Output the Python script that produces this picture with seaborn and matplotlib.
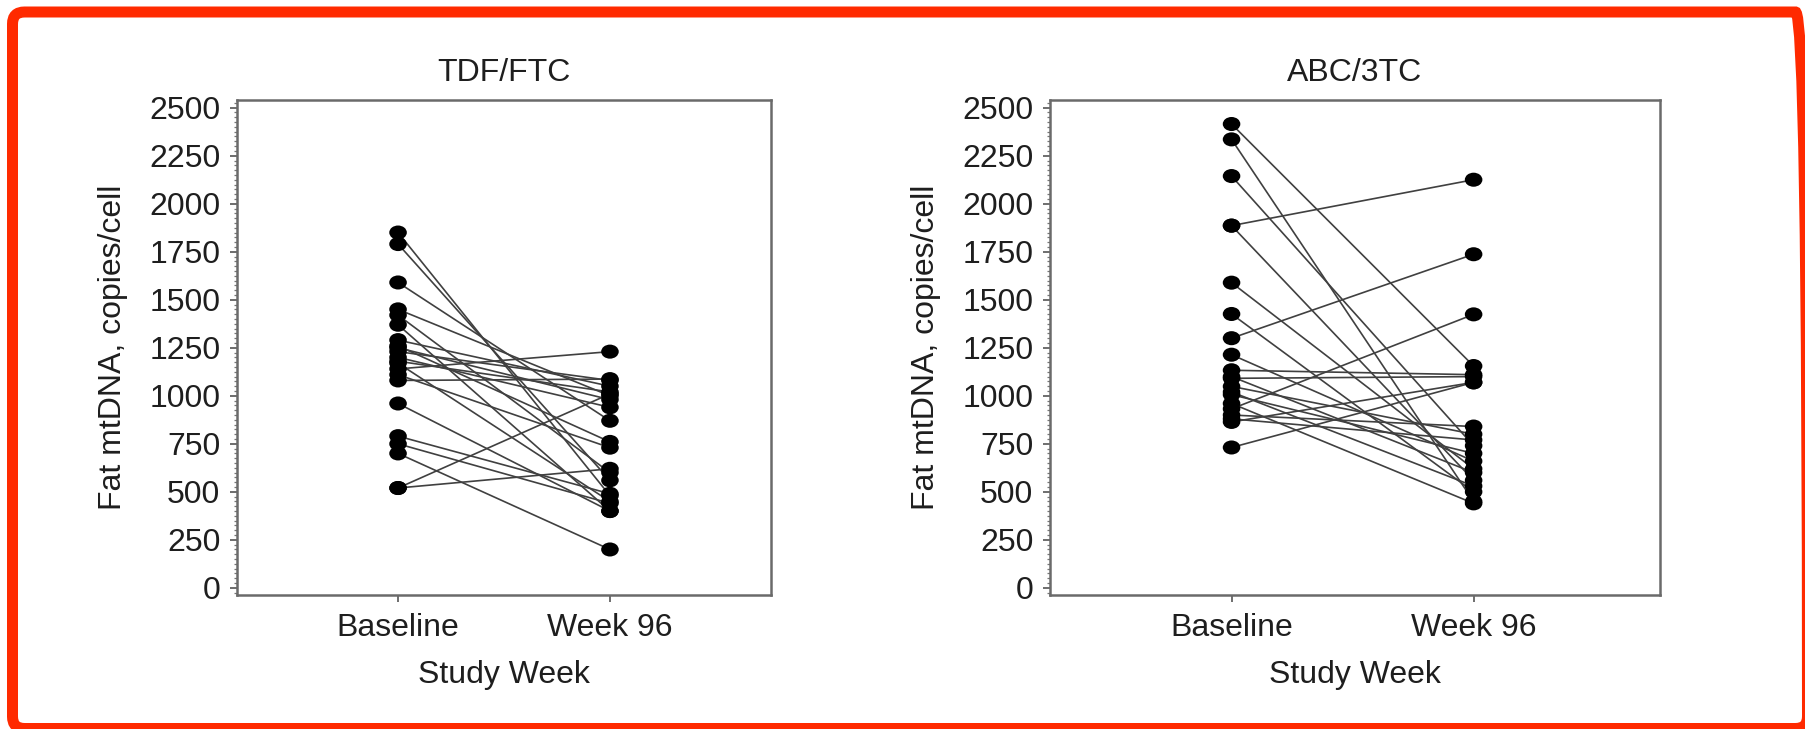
import numpy as np
import pandas as pd
import matplotlib
matplotlib.use("Agg")
import matplotlib.pyplot as plt
import seaborn as sns
from matplotlib.patches import FancyBboxPatch
from matplotlib.transforms import IdentityTransform, Affine2D
from matplotlib.ticker import MultipleLocator
from matplotlib.path import Path

# ---------------- data ----------------
groups = ["TDF/FTC", "ABC/3TC"]
timepoints = ["Baseline", "Week 96"]
y_ticks = [0, 250, 500, 750, 1000, 1250, 1500, 1750, 2000, 2250, 2500]

tdf_baseline = [1850, 1790, 1590, 1450, 1420, 1370, 1290, 1260, 1230, 1200, 1170,
                1140, 1110, 1080, 960, 790, 750, 700, 520, 520, 1250, 1180]
tdf_week96 = [480, 560, 870, 1000, 600, 400, 1050, 760, 1080, 940, 450,
              1230, 730, 1087, 400, 490, 440, 200, 1010, 620, 980, 1020]

abc_baseline = [2415, 2335, 2144, 1886, 1886, 1589, 1426, 1300, 1214, 1133, 1091,
                1100, 1049, 1006, 1020, 932, 960, 900, 880, 864, 731]
abc_week96 = [1155, 450, 740, 2125, 560, 620, 500, 1737, 660, 1110, 1100,
              600, 800, 700, 530, 1424, 440, 840, 770, 1070, 1070]

# ---------------- style ----------------
sns.set_theme(style="white")
plt.rcParams['font.family'] = ['Liberation Sans', 'DejaVu Sans']
TXT = "#1e1e1e"
FS = 23

# slightly wide elliptical dot, as in the reference
dot = Path.unit_circle().transformed(Affine2D().scale(1.25, 1.0))

fig = plt.figure(figsize=(18.05, 7.29), dpi=100)
W, H = 1805, 729

panels = [
    (groups[0], tdf_baseline, tdf_week96, (237, 771), (-0.76, 1.76)),
    (groups[1], abc_baseline, abc_week96, (1050, 1660), (-0.75, 1.77)),
]
ax_top, ax_bot = 100, 595

for name, base, wk, (x0, x1), xl in panels:
    ax = fig.add_axes([x0 / W, (H - ax_bot) / H, (x1 - x0) / W, (ax_bot - ax_top) / H])
    n = len(base)
    df = pd.DataFrame({
        "subject": list(range(n)) * 2,
        "Study Week": [timepoints[0]] * n + [timepoints[1]] * n,
        "value": list(base) + list(wk),
    })
    sns.lineplot(data=df, x="Study Week", y="value", units="subject",
                 estimator=None, color="#404040", linewidth=1.2, ax=ax,
                 legend=False)
    sns.scatterplot(data=df, x="Study Week", y="value", color="black",
                    marker=dot, s=160, edgecolor="none", ax=ax, zorder=3,
                    legend=False)
    ax.set_xlim(*xl)
    ax.set_ylim(-37, 2540)
    ax.set_yticks(y_ticks)
    ax.yaxis.set_minor_locator(MultipleLocator(25))
    ax.set_xticks([0, 1])
    ax.set_xticklabels(timepoints)
    for sp in ax.spines.values():
        sp.set_visible(True)
        sp.set_color("#6a6a6a")
        sp.set_linewidth(1.8)
    ax.tick_params(axis="both", which="major", direction="out", length=5,
                   width=1.2, color="#555555", labelsize=FS, labelcolor=TXT,
                   left=True, bottom=True, right=False, top=False)
    ax.tick_params(axis="y", which="major", pad=7)
    ax.tick_params(axis="x", which="major", pad=8)
    ax.tick_params(axis="y", which="minor", direction="out", length=2.5,
                   width=0.9, color="#777777", left=True)
    ax.set_xlabel("Study Week", fontsize=FS, color=TXT, labelpad=12)
    ax.set_ylabel("Fat mtDNA, copies/cell", fontsize=FS, color=TXT, labelpad=15)
    ax.set_title(name, fontsize=FS, color=TXT, pad=14)
    ax.grid(False)
    ax.set_facecolor("white")

# red frame around the picture
frame = FancyBboxPatch((12.5, 0.5), 1795, 716.5,
                       boxstyle="round,pad=0,rounding_size=12",
                       transform=IdentityTransform(), fill=False,
                       edgecolor="#ff2a00", linewidth=11 * 0.72)
fig.add_artist(frame)

fig.savefig("out.png", dpi=100)
